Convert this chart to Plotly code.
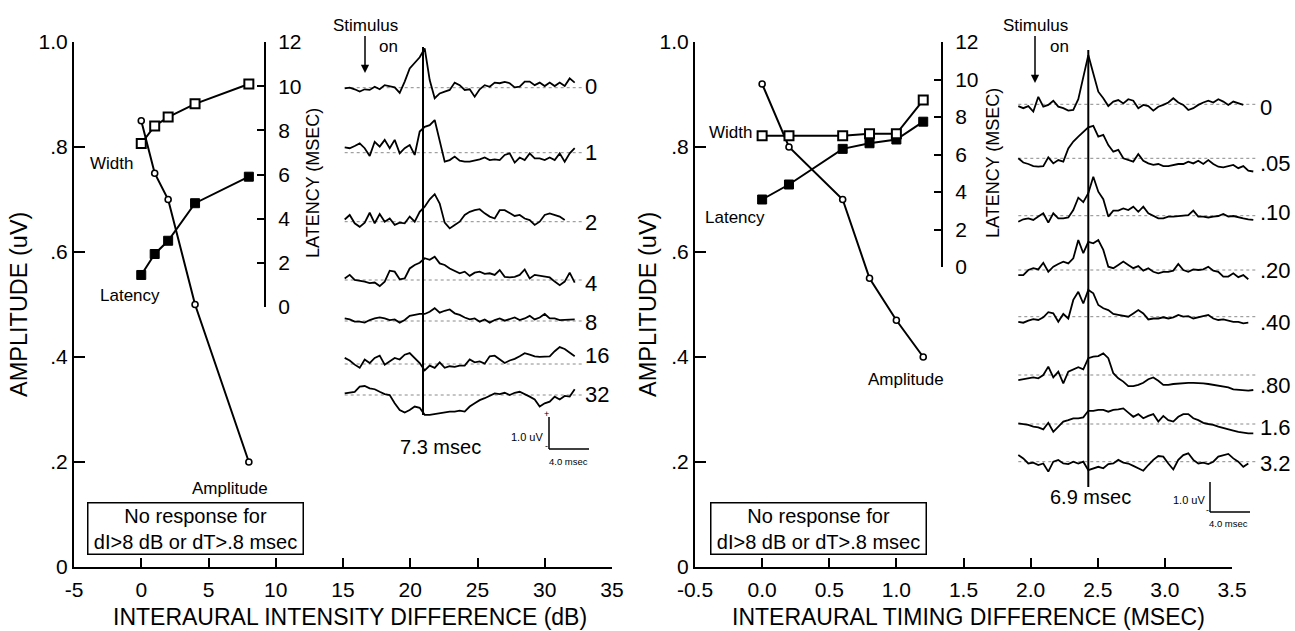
import numpy as np
import plotly.graph_objects as go

W, H = 1295, 631
FONT = "Liberation Sans, Arial, Helvetica, sans-serif"

# ---------------- data ----------------
iid_db = [0, 1, 2, 4, 8]
iid_amplitude_uv = [0.85, 0.75, 0.70, 0.50, 0.20]
iid_width_ms = [7.4, 8.2, 8.6, 9.2, 10.1]
iid_latency_ms = [1.45, 2.4, 3.0, 4.7, 5.9]

itd_ms = [0.0, 0.2, 0.6, 0.8, 1.0, 1.2]
itd_amplitude_uv = [0.92, 0.80, 0.70, 0.55, 0.47, 0.40]
itd_width_ms = [7.0, 7.0, 7.0, 7.1, 7.1, 8.9]
itd_latency_ms = [3.6, 4.4, 6.3, 6.6, 6.8, 7.75]

amp_ticks = [0, 0.2, 0.4, 0.6, 0.8, 1.0]
amp_ticktext = ["0", ".2", ".4", ".6", ".8", "1.0"]
lat_ticks = [0, 2, 4, 6, 8, 10, 12]
iid_xticks = [-5, 0, 5, 10, 15, 20, 25, 30, 35]
iid_xticktext = ["-5", "0", "5", "10", "15", "20", "25", "30", "35"]
itd_xticks = [-0.5, 0.0, 0.5, 1.0, 1.5, 2.0, 2.5, 3.0, 3.5]
itd_xticktext = ["-0.5", "0.0", "0.5", "1.0", "1.5", "2.0", "2.5", "3.0", "3.5"]

SAMPLE_MS = 0.5  # sampling interval of the averaged waveforms

iid_trace_labels = ["0", "1", "2", "4", "8", "16", "32"]
iid_wave_0 = [-0.02, 0.00, -0.05, -0.12, -0.05, -0.07, 0.03, -0.05, 0.08, 0.05, 0.01, -0.16, 0.19, 0.60, 0.78,
              0.95, 1.23, 0.24, -0.33, -0.18, -0.12, -0.07, 0.16, 0.08, -0.07, -0.05, -0.28, -0.05, 0.08, 0.03,
              0.16, 0.14, 0.18, 0.14, 0.01, 0.03, 0.19, 0.19, 0.08, 0.16, 0.05, 0.16, 0.05, 0.16, 0.05, 0.29, 0.16]
iid_wave_1 = [0.17, 0.14, 0.21, 0.29, 0.14, -0.10, 0.34, 0.19, 0.40, 0.14, 0.40, -0.02, 0.14, 0.24, -0.07,
              0.66, 0.81, 0.86, 1.02, 0.40, -0.28, -0.23, -0.12, -0.25, -0.28, -0.28, -0.25, -0.21, -0.15, -0.23,
              -0.21, -0.23, -0.07, -0.02, -0.31, -0.15, -0.23, -0.02, -0.18, -0.18, -0.23, -0.15, -0.23, -0.02,
              -0.28, -0.02, 0.14]
iid_wave_2 = [0.07, 0.21, -0.05, -0.16, -0.03, 0.28, -0.05, 0.24, 0.00, 0.10, -0.10, -0.03, -0.05, 0.16, 0.00,
              0.31, 0.47, 0.70, 0.86, 0.57, -0.03, -0.21, -0.10, 0.00, 0.21, 0.31, 0.36, 0.39, 0.26, 0.16,
              0.10, 0.36, 0.36, 0.26, 0.18, 0.21, 0.10, 0.05, -0.10, 0.00, 0.21, 0.26, 0.21, 0.16, 0.05]
iid_wave_4 = [0.05, 0.16, 0.00, -0.02, -0.05, -0.10, -0.08, -0.19, -0.05, 0.29, 0.26, 0.02, 0.05, 0.36, 0.47,
              0.54, 0.68, 0.63, 0.73, 0.52, 0.47, 0.36, 0.29, 0.21, 0.26, 0.13, 0.23, 0.26, 0.19, 0.21,
              0.16, 0.31, 0.10, 0.08, 0.10, 0.16, 0.33, 0.05, 0.16, 0.13, 0.10, 0.08, -0.05, -0.16, -0.05,
              0.23, -0.08]
iid_wave_8 = [0.08, 0.05, -0.02, -0.02, -0.05, 0.03, 0.08, 0.11, 0.08, 0.03, 0.05, -0.05, 0.03, 0.16, 0.19,
              0.22, 0.22, 0.29, 0.40, 0.26, 0.32, 0.36, 0.24, 0.19, 0.11, 0.05, 0.08, -0.02, 0.05, -0.05,
              0.03, 0.08, 0.01, 0.05, 0.11, 0.03, 0.08, 0.16, 0.05, 0.11, 0.22, 0.08, 0.08, 0.03, 0.03,
              0.03, 0.05]
iid_wave_16 = [0.19, 0.11, -0.02, -0.12, 0.14, 0.03, 0.19, 0.26, -0.02, 0.08, 0.19, 0.14, 0.29, 0.34, 0.19,
               0.03, -0.20, -0.05, -0.12, 0.05, -0.12, -0.07, -0.09, -0.05, -0.05, 0.14, 0.05, 0.08, 0.01, 0.24,
               0.26, 0.14, 0.03, 0.11, 0.16, 0.24, 0.34, 0.29, 0.24, 0.22, 0.22, 0.24, 0.40, 0.53, 0.47,
               0.36, 0.24]
iid_wave_32 = [0.05, 0.07, 0.10, 0.26, 0.28, 0.21, 0.18, 0.10, 0.03, 0.00, -0.26, -0.47, -0.55, -0.47, -0.36,
               -0.40, -0.62, -0.62, -0.59, -0.57, -0.55, -0.52, -0.52, -0.49, -0.52, -0.36, -0.26, -0.16, -0.10,
               -0.03, 0.05, 0.03, 0.07, 0.00, 0.07, 0.10, 0.03, -0.05, -0.14, -0.36, -0.26, -0.21, -0.05,
               -0.14, -0.03, -0.05, 0.18]
iid_waves = [iid_wave_0, iid_wave_1, iid_wave_2, iid_wave_4, iid_wave_8, iid_wave_16, iid_wave_32]
iid_peak_ms = 7.83

itd_trace_labels = ["0", ".05", ".10", ".20", ".40", ".80", "1.6", "3.2"]
itd_wave_0 = [-0.06, -0.13, -0.06, -0.24, 0.25, -0.08, -0.02, 0.12, -0.08, -0.13, -0.21, -0.19, 0.17, 0.92,
              1.64, 1.03, 0.42, 0.20, -0.06, 0.09, 0.14, 0.03, 0.17, 0.12, -0.13, -0.02, -0.06, -0.21, -0.08,
              -0.02, 0.06, 0.20, 0.06, -0.02, -0.19, -0.13, -0.02, 0.06, 0.12, 0.06, 0.17, 0.09, -0.02, 0.09,
              0.03, -0.02]
itd_wave_05 = [0.00, -0.14, -0.19, -0.26, -0.28, -0.26, 0.03, -0.17, -0.06, -0.11, 0.33, 0.56, 0.72, 0.89,
               1.03, 1.08, 0.72, 0.78, 0.44, 0.22, 0.28, 0.00, -0.06, -0.11, 0.14, -0.08, -0.17, -0.22, -0.19,
               -0.26, -0.26, -0.22, -0.19, -0.19, -0.11, -0.17, -0.08, -0.19, -0.06, -0.19, -0.28, -0.30,
               -0.26, -0.22, -0.33, -0.26, -0.41, -0.44]
itd_wave_10 = [-0.20, -0.12, -0.09, -0.14, -0.03, 0.08, -0.23, 0.08, -0.09, -0.09, -0.06, 0.19, 0.60, 0.45,
               0.75, 1.30, 0.80, 0.55, -0.03, 0.17, 0.17, 0.24, 0.19, 0.30, 0.13, 0.30, 0.08, -0.01, -0.09,
               -0.09, -0.03, -0.03, -0.01, -0.01, 0.02, 0.17, -0.03, -0.03, -0.06, -0.03, -0.01, 0.06, -0.03,
               -0.01, -0.06, -0.09, -0.12, -0.14]
itd_wave_20 = [-0.17, -0.17, 0.00, 0.06, 0.02, 0.24, -0.06, 0.11, 0.20, 0.28, 0.22, 0.39, 1.00, 0.56, 0.94,
               0.89, 1.00, 0.67, 0.11, 0.06, 0.17, 0.28, 0.17, 0.06, 0.13, -0.02, 0.06, -0.06, -0.11, -0.06,
               -0.06, -0.02, 0.20, 0.00, -0.06, 0.02, 0.00, 0.02, 0.11, -0.02, -0.06, -0.22, -0.22, -0.11,
               -0.24, -0.17, -0.31]
itd_wave_40 = [-0.17, -0.20, -0.13, -0.08, -0.11, -0.02, 0.15, 0.11, -0.17, 0.09, -0.06, 0.56, 0.83, 0.44,
               0.89, 0.78, 0.39, 0.28, 0.22, 0.09, 0.06, 0.02, 0.00, 0.11, 0.22, 0.11, -0.09, -0.06, -0.06,
               -0.02, -0.06, -0.02, 0.06, 0.00, 0.02, -0.06, -0.02, 0.02, 0.06, -0.06, -0.11, -0.09, -0.13,
               -0.17, -0.17, -0.22, -0.20]
itd_wave_80 = [-0.17, -0.14, -0.11, -0.08, -0.11, 0.00, 0.28, -0.08, 0.11, -0.28, 0.11, 0.19, 0.26, 0.19,
               0.56, 0.61, 0.63, 0.72, 0.56, 0.06, -0.11, -0.22, -0.37, -0.37, -0.33, -0.26, -0.14, -0.08,
               -0.19, -0.33, -0.33, -0.30, -0.28, -0.26, -0.26, -0.26, -0.26, -0.28, -0.30, -0.33, -0.37,
               -0.39, -0.41, -0.48, -0.50, -0.52, -0.52, -0.50]
itd_wave_160 = [0.02, 0.00, -0.03, -0.09, -0.11, -0.18, 0.04, -0.26, -0.09, 0.08, 0.13, 0.19, 0.19, 0.22,
                0.44, 0.44, 0.47, 0.47, 0.41, 0.47, 0.49, 0.52, 0.38, 0.24, 0.33, 0.19, 0.27, 0.33, 0.08, 0.27,
                0.13, 0.08, 0.24, 0.33, 0.33, 0.19, 0.13, 0.04, 0.00, -0.03, -0.09, -0.14, -0.18, -0.22, -0.26,
                -0.29, -0.31, -0.31]
itd_wave_320 = [0.22, 0.11, -0.06, -0.03, -0.11, -0.06, -0.33, 0.00, 0.06, -0.06, -0.08, 0.00, -0.06, 0.00,
                -0.28, -0.22, -0.17, -0.22, -0.08, -0.06, 0.06, -0.03, -0.06, -0.14, -0.22, -0.30, -0.11, 0.06,
                0.19, 0.17, -0.06, -0.26, 0.06, 0.22, 0.28, 0.06, -0.06, -0.03, -0.08, 0.00, 0.17, 0.22, 0.26,
                0.11, 0.00, -0.17, -0.06]
itd_waves = [itd_wave_0, itd_wave_05, itd_wave_10, itd_wave_20, itd_wave_40, itd_wave_80, itd_wave_160,
             itd_wave_320]
itd_peak_ms = 7.0

SCALE_UV = 1.0
SCALE_MS = 4.0

# ---------------- layout constants (pixels) ----------------
def fx(px):
    return px / W


def fy(py):
    return 1 - py / H


# main panels
L_X0, L_X1 = 74, 612
R_X0, R_X1 = 695, 1232
AMP_TOP, AMP_BOT = 42, 567
L_LAT_BOT, R_LAT_BOT = 307, 267
L_LAT_POS, R_LAT_POS = 265, 942

# waveform insets
L_T0, L_BASE, L_PPM, L_PPU = 344.7, 87.7, 10.0, 32.0
R_T0, R_BASE, R_PPM, R_PPU = 1018.3, 104.3, 10.0, 30.0
L_DOM = (330, 605, 5, 480)   # x0, x1, ytop, ybot
R_DOM = (1005, 1265, 5, 530)
iid_base_px = [87.7, 152.7, 221.7, 280, 321, 364, 395]
itd_base_px = [104.3, 158.3, 215.7, 270, 316.7, 375, 424, 461.7]
iid_label_py = [87, 152, 222, 283, 322, 356, 394]
itd_label_py = [107, 163, 213, 270, 322, 385, 427, 463]


def ins_ranges(dom, t0, base, ppm, ppu):
    x0, x1, yt, yb = dom
    return ([(x0 - t0) / ppm, (x1 - t0) / ppm], [(base - yb) / ppu, (base - yt) / ppu])


L_XR, L_YR = ins_ranges(L_DOM, L_T0, L_BASE, L_PPM, L_PPU)
R_XR, R_YR = ins_ranges(R_DOM, R_T0, R_BASE, R_PPM, R_PPU)

fig = go.Figure()

line_k = dict(color="black", width=2)


def add_curves(x, amp, width, lat, xa, ya_amp, ya_lat):
    fig.add_trace(go.Scatter(x=x, y=lat, xaxis=xa, yaxis=ya_lat, mode="lines+markers", line=line_k,
                             marker=dict(symbol="square", size=9, color="black", line=dict(color="black", width=1)),
                             hoverinfo="skip", showlegend=False))
    fig.add_trace(go.Scatter(x=x, y=width, xaxis=xa, yaxis=ya_lat, mode="lines+markers", line=line_k,
                             marker=dict(symbol="square", size=9, color="white", line=dict(color="black", width=2)),
                             hoverinfo="skip", showlegend=False))
    fig.add_trace(go.Scatter(x=x, y=amp, xaxis=xa, yaxis=ya_amp, mode="lines+markers", line=line_k,
                             marker=dict(symbol="circle", size=6, color="white", line=dict(color="black", width=1.6)),
                             hoverinfo="skip", showlegend=False))


add_curves(iid_db, iid_amplitude_uv, iid_width_ms, iid_latency_ms, "x", "y", "y2")
add_curves(itd_ms, itd_amplitude_uv, itd_width_ms, itd_latency_ms, "x2", "y3", "y4")

shapes = []
annotations = []


def add_waves(waves, bases, base0, ppu, xa, ya, t_end):
    for w, bpx in zip(waves, bases):
        off = (base0 - bpx) / ppu
        t = np.arange(len(w)) * SAMPLE_MS
        shapes.append(dict(type="line", xref=xa, yref=ya, x0=0, x1=t_end, y0=off, y1=off,
                           line=dict(color="#8a8a8a", width=1, dash="dot"), layer="below"))
        fig.add_trace(go.Scatter(x=t, y=np.array(w) + off, xaxis=xa, yaxis=ya, mode="lines",
                                 line=dict(color="black", width=1.8), hoverinfo="skip", showlegend=False))


add_waves(iid_waves, iid_base_px, L_BASE, L_PPU, "x3", "y5", 23.7)
add_waves(itd_waves, itd_base_px, R_BASE, R_PPU, "x4", "y6", 23.7)

# peak-latency vertical lines
shapes.append(dict(type="line", xref="x3", yref="y5", x0=iid_peak_ms, x1=iid_peak_ms,
                   y0=(L_BASE - 415) / L_PPU, y1=(L_BASE - 47) / L_PPU, line=dict(color="black", width=2)))
shapes.append(dict(type="line", xref="x4", yref="y6", x0=itd_peak_ms, x1=itd_peak_ms,
                   y0=(R_BASE - 487) / R_PPU, y1=(R_BASE - 50) / R_PPU, line=dict(color="black", width=2)))

# scale bars
for xa, ya, tx, yb in [("x3", "y5", (549 - L_T0) / L_PPM, (L_BASE - 449) / L_PPU),
                       ("x4", "y6", (1210 - R_T0) / R_PPM, (R_BASE - 512) / R_PPU)]:
    shapes.append(dict(type="line", xref=xa, yref=ya, x0=tx, x1=tx, y0=yb, y1=yb + SCALE_UV,
                       line=dict(color="black", width=1.5)))
    shapes.append(dict(type="line", xref=xa, yref=ya, x0=tx, x1=tx + SCALE_MS, y0=yb, y1=yb,
                       line=dict(color="black", width=1.5)))


def txt(text, px, py, size, xanchor="center", angle=0, **kw):
    annotations.append(dict(text=text, x=fx(px), y=fy(py), xref="paper", yref="paper", showarrow=False,
                            xanchor=xanchor, yanchor="middle", textangle=angle,
                            font=dict(family=FONT, size=size, color="black"), **kw))


# labels of curves
txt("Width", 111, 163, 17)
txt("Latency", 130, 295, 17)
txt("Amplitude", 230, 488, 17)
txt("Width", 730, 132, 17)
txt("Latency", 735, 217, 17)
txt("Amplitude", 906, 379, 17)

# boxes
for cx in (195, 818):
    txt("No response for<br>dI>8 dB or dT>.8 msec", cx, 528, 20, bordercolor="black", borderwidth=1.5,
        borderpad=3, bgcolor="white", width=208, height=44)

# stimulus arrows
for sx, on_x, tip in [(365, 389, 73), (1035, 1059, 83)]:
    annotations.append(dict(text="Stimulus", x=fx(sx), y=fy(tip), ax=0, ay=25 - tip, axref="pixel",
                            ayref="pixel", xref="paper", yref="paper", showarrow=True, arrowhead=2,
                            arrowsize=1.1, arrowwidth=1.5, arrowcolor="black",
                            font=dict(family=FONT, size=17, color="black")))
    txt("on", on_x, 47, 17)

# latency values
txt("7.3 msec", 440, 447, 20)
txt("6.9 msec", 1090, 497, 20)

# trace labels
for lab, py in zip(iid_trace_labels, iid_label_py):
    txt(lab, 583, py, 22, xanchor="left")
for lab, py in zip(itd_trace_labels, itd_label_py):
    txt(lab, 1258, py, 22, xanchor="left")

# scale bar texts
txt("1.0 uV", 545, 437, 11, xanchor="right")
txt("+", 546, 414, 9)
txt("-", 546, 446, 9)
txt("4.0 msec", 568, 461, 9.5)
txt("1.0 uV", 1207, 500, 11, xanchor="right")
txt("-", 1207, 510, 9)
txt("4.0 msec", 1228, 523, 9.5)

# axis titles
txt("AMPLITUDE (uV)", 19, 305, 23.5, angle=-90)
txt("AMPLITUDE (uV)", 648, 305, 23.5, angle=-90)
txt("LATENCY (MSEC)", 313, 183, 18, angle=-90)
txt("LATENCY (MSEC)", 993, 163, 18, angle=-90)
txt("INTERAURAL INTENSITY DIFFERENCE (dB)", 350, 617, 23)
txt("INTERAURAL TIMING DIFFERENCE (MSEC)", 968, 617, 23)

ax_style = dict(showline=True, linecolor="black", linewidth=2, ticks="inside", tickcolor="black",
                tickwidth=2, showgrid=False, zeroline=False,
                tickfont=dict(family=FONT, size=21, color="black"))

hidden = dict(visible=False, showgrid=False, zeroline=False)

fig.update_layout(
    width=W, height=H, autosize=False, template="none",
    margin=dict(l=0, r=0, t=0, b=0, pad=0),
    paper_bgcolor="white", plot_bgcolor="rgba(0,0,0,0)", showlegend=False,
    font=dict(family=FONT, color="black"),
    xaxis=dict(domain=[fx(L_X0), fx(L_X1)], range=[-5, 35], anchor="y", tickvals=iid_xticks,
               ticktext=iid_xticktext, ticklen=9, ticklabelstandoff=3, **ax_style),
    yaxis=dict(domain=[fy(AMP_BOT), fy(AMP_TOP)], range=[0, 1], anchor="x", tickvals=amp_ticks,
               ticktext=amp_ticktext, ticklen=11, **ax_style),
    yaxis2=dict(domain=[fy(L_LAT_BOT), fy(AMP_TOP)], range=[0, 12], anchor="free", position=fx(L_LAT_POS),
                side="right", tickvals=lat_ticks, ticklen=7, ticklabelstandoff=8, **ax_style),
    xaxis2=dict(domain=[fx(R_X0), fx(R_X1)], range=[-0.5, 3.5], anchor="y3", tickvals=itd_xticks,
                ticktext=itd_xticktext, ticklen=9, ticklabelstandoff=3, **ax_style),
    yaxis3=dict(domain=[fy(AMP_BOT), fy(AMP_TOP)], range=[0, 1], anchor="x2", tickvals=amp_ticks,
                ticktext=amp_ticktext, ticklen=11, **ax_style),
    yaxis4=dict(domain=[fy(R_LAT_BOT), fy(AMP_TOP)], range=[0, 12], anchor="free", position=fx(R_LAT_POS),
                side="right", tickvals=lat_ticks, ticklen=7, ticklabelstandoff=8, **ax_style),
    xaxis3=dict(domain=[fx(L_DOM[0]), fx(L_DOM[1])], range=L_XR, anchor="y5", **hidden),
    yaxis5=dict(domain=[fy(L_DOM[3]), fy(L_DOM[2])], range=L_YR, anchor="x3", **hidden),
    xaxis4=dict(domain=[fx(R_DOM[0]), fx(R_DOM[1])], range=R_XR, anchor="y6", **hidden),
    yaxis6=dict(domain=[fy(R_DOM[3]), fy(R_DOM[2])], range=R_YR, anchor="x4", **hidden),
    shapes=shapes,
    annotations=annotations,
)

fig.write_html("out.html")
